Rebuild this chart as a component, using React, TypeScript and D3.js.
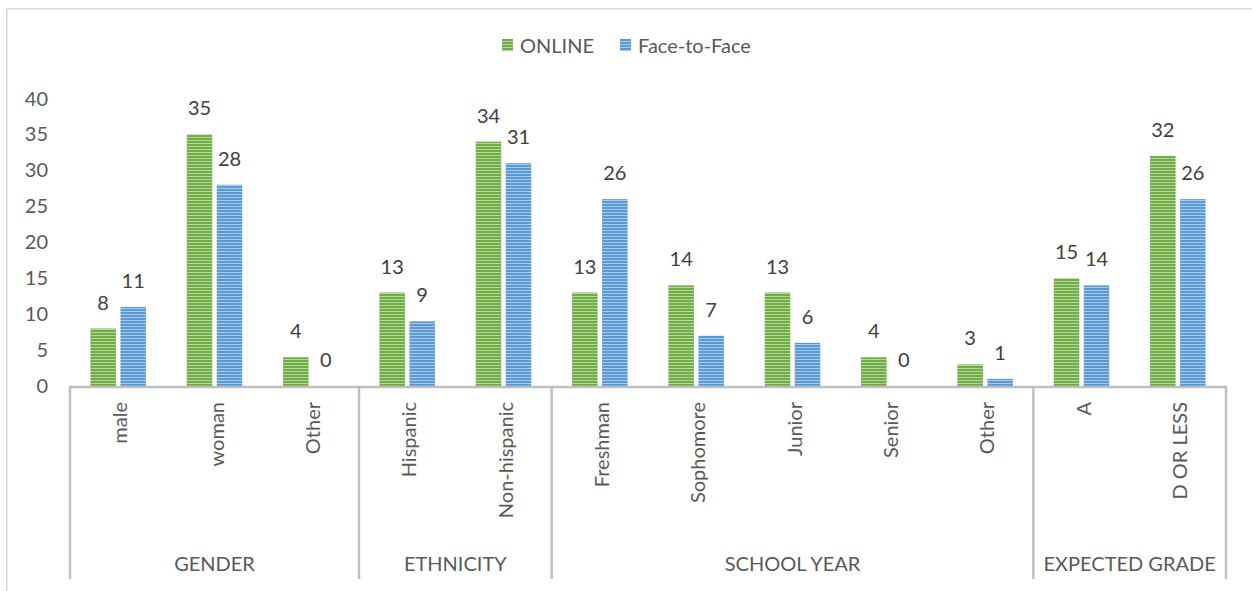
import React from "react";
import * as d3 from "d3";

const categories = ["male", "woman", "Other", "Hispanic", "Non-hispanic", "Freshman", "Sophomore", "Junior", "Senior", "Other", "A", "D OR LESS"];
const groups = ["GENDER", "ETHNICITY", "SCHOOL YEAR", "EXPECTED GRADE"];
const groupSizes = [3, 2, 5, 2];
const seriesNames = ["ONLINE", "Face-to-Face"];
const online = [8, 35, 4, 13, 34, 13, 14, 13, 4, 3, 15, 32];
const faceToFace = [11, 28, 0, 9, 31, 26, 7, 6, 0, 1, 14, 26];
const yTicks = [0, 5, 10, 15, 20, 25, 30, 35, 40];

const W = 1252;
const H = 591;
const FONT = "Lato, 'Open Sans', sans-serif";
const FS = 20;

export default function App() {
  const x = d3.scaleBand<number>().domain(categories.map((_, i) => i)).range([70, 1226]).padding(0);
  const y = d3.scaleLinear().domain([0, 40]).range([386, 98.5]);
  const series = [online, faceToFace];
  const colors = ["#70AD47", "#5B9BD5"];
  const light = ["#B4D89C", "#A8CAEA"];

  const groupBounds: { start: number; end: number; name: string }[] = [];
  let idx = 0;
  groups.forEach((g, gi) => {
    const start = x(idx)!;
    idx += groupSizes[gi];
    const end = idx < categories.length ? x(idx)! : x.range()[1];
    groupBounds.push({ start, end, name: g });
  });
  const separators = [x.range()[0], ...groupBounds.map((g) => g.end)];

  return (
    <>
      <style>{"body{margin:0}"}</style>
      <svg width={W} height={H} style={{ display: "block", fontFamily: FONT }}>
        <defs>
          {colors.map((c, i) => (
            <pattern key={i} id={`stripe${i}`} patternUnits="userSpaceOnUse" width={4} height={3}>
              <rect x={0} y={0} width={4} height={3} fill={c} />
              <rect x={0} y={2} width={4} height={1} fill={light[i]} />
            </pattern>
          ))}
        </defs>
        <rect x={0} y={0} width={W} height={H} fill="#fff" />
        <rect x={6.75} y={8.75} width={1300} height={700} fill="none" stroke="#D9D9D9" strokeWidth={1.5} />

        {/* Legend */}
        <g>
          <rect x={502} y={39} width={11} height={12} fill="url(#stripe0)" />
          <text x={520} y={52.5} fontSize={FS} fill="#595959">{seriesNames[0]}</text>
          <rect x={620} y={39} width={11} height={12} fill="url(#stripe1)" />
          <text x={638} y={52.5} fontSize={FS} fill="#595959">{seriesNames[1]}</text>
        </g>

        {/* Y tick labels */}
        {yTicks.map((t) => (
          <text key={t} x={48} y={y(t)} dy="0.35em" textAnchor="end" fontSize={FS} fill="#595959">
            {t}
          </text>
        ))}

        {/* Bars and labels */}
        {categories.map((_, i) => {
          const cx = x(i)! + x.bandwidth() / 2;
          const inner = d3.scaleBand<number>().domain([0, 1]).range([cx - 27.75, cx + 27.75]).paddingInner(0.15);
          return (
            <g key={i}>
              {series.map((s, si) => {
                const v = s[i];
                const bx = inner(si)!;
                return (
                  <g key={si}>
                    {v > 0 && (
                      <rect x={bx} y={y(v)} width={inner.bandwidth()} height={y(0) - y(v)} fill={`url(#stripe${si})`} />
                    )}
                    <text x={bx + inner.bandwidth() / 2} y={y(v) - 19} textAnchor="middle" fontSize={FS} fill="#404040">
                      {v}
                    </text>
                  </g>
                );
              })}
              <text
                transform={`translate(${cx + 2},402) rotate(-90)`}
                textAnchor="end"
                dy="0.35em"
                fontSize={FS}
                fill="#595959"
              >
                {categories[i]}
              </text>
            </g>
          );
        })}

        {/* Axis lines */}
        <line x1={x.range()[0] - 1} x2={x.range()[1] + 1} y1={387} y2={387} stroke="#BFBFBF" strokeWidth={2.5} />
        {separators.map((sx, i) => (
          <line key={i} x1={sx} x2={sx} y1={387} y2={579} stroke="#BFBFBF" strokeWidth={2.5} />
        ))}
        {groupBounds.map((g, i) => (
          <text key={i} x={(g.start + g.end) / 2} y={571} textAnchor="middle" fontSize={FS} fill="#595959">
            {g.name}
          </text>
        ))}
      </svg>
    </>
  );
}
